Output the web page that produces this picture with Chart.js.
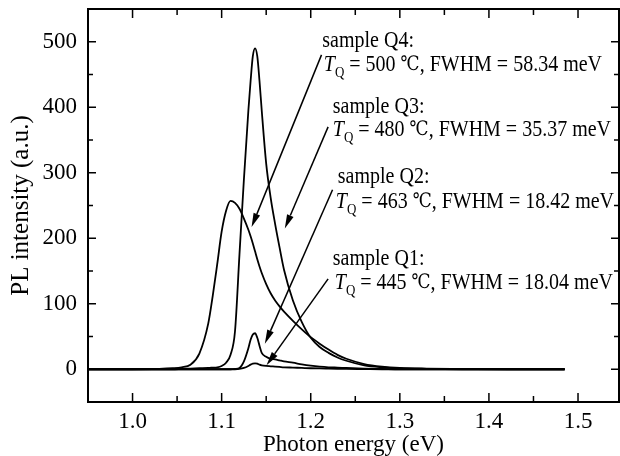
<!DOCTYPE html>
<html>
<head>
<meta charset="utf-8">
<script src="https://cdn.jsdelivr.net/npm/chart.js@4.4.1/dist/chart.umd.min.js"></script>
<style>
  html, body { margin: 0; padding: 0; background: #fff; }
  #wrap { width: 620px; height: 456px; }
</style>
</head>
<body>
<div id="wrap"><canvas id="plChart" width="620" height="456"></canvas></div>
<script>
// --- Data (photon energy in eV, PL intensity in a.u.) ---
const energy = [0.95, 1.00, 1.03, 1.045, 1.055, 1.065, 1.075, 1.085, 1.09, 1.095, 1.10, 1.105, 1.11, 1.115,
    1.12, 1.125, 1.13, 1.1325, 1.135, 1.1375, 1.14, 1.1425, 1.145, 1.15, 1.155, 1.16, 1.165, 1.17,
    1.18, 1.19, 1.20, 1.21, 1.22, 1.23, 1.24, 1.26, 1.28, 1.30, 1.33, 1.37, 1.42, 1.485];

const q4 = [0, 0, 0.5, 1.5, 3, 7, 24, 70, 112, 160, 210, 242, 257, 254,
    245, 230, 213, 203, 192, 180, 168, 157, 147, 130, 116, 105, 96, 88,
    74, 61, 49, 39, 30, 22, 16, 8, 4, 2, 1, 0.5, 0, 0];
const q3 = [0, 0, 0, 0, 0.5, 1, 1.5, 2, 2.5, 3, 5, 10, 22, 58,
    175, 290, 395, 440, 478, 490, 478, 440, 395, 314, 262, 222, 186, 152,
    105, 72, 48, 34, 25, 18, 13, 6, 3, 1.5, 0.5, 0, 0, 0];
const q2 = [0, 0, 0, 0, 0, 0, 0, 0, 0, 0, 0, 0, 0, 0.5,
    2, 12, 32, 45, 53, 55, 48, 36, 25, 19, 16, 15, 13.5, 12,
    10, 7.5, 5.5, 4, 3, 2.5, 2, 1, 0.5, 0, 0, 0, 0, 0];
const q1 = [0, 0, 0, 0, 0, 0, 0, 0, 0, 0, 0, 0, 0, 0,
    0.5, 2, 5, 7, 8.5, 9, 8.5, 7, 6, 5, 4.5, 4, 3.5, 3,
    2.5, 2, 1.5, 1.2, 1, 0.8, 0.6, 0.3, 0, 0, 0, 0, 0, 0];

const xTicks = [1.0, 1.1, 1.2, 1.3, 1.4, 1.5];
const xMinorTicks = [1.05, 1.15, 1.25, 1.35, 1.45];
const yTicks = [0, 100, 200, 300, 400, 500];
const yMinorTicks = [50, 150, 250, 350, 450];

// annotation text (Q4, Q3, Q2, Q1)
const sampleNames = ['sample Q4:', 'sample Q3:', 'sample Q2:', 'sample Q1:'];
const quenchTemps = ['500', '480', '463', '445'];
const fwhmValues = ['58.34', '35.37', '18.42', '18.04'];

// annotation anchors in data units
const nameAt = [[1.213, 502], [1.2248, 400], [1.2304, 294], [1.2248, 169]];
const tLineAt = [[1.2147, 465], [1.2248, 365], [1.2282, 256], [1.227, 132]];
const arrowFrom = [[1.2121, 480], [1.2195, 370], [1.2245, 274], [1.2195, 138]];
const arrowTo = [[1.1336, 217], [1.1709, 215], [1.1485, 39], [1.1504, 6]];

const serif = '"Liberation Serif", "DejaVu Serif", serif';

function toPoints(ys) {
    return energy.map((e, i) => ({ x: e, y: ys[i] }));
}

// text is a little taller than wide in the original figure
function stretchedText(ctx, text, x, y, font) {
    ctx.save();
    ctx.font = font;
    ctx.translate(x, y);
    ctx.scale(1, 1.18);
    ctx.fillText(text, 0, 0);
    const w = ctx.measureText(text).width;
    ctx.restore();
    return w;
}

// --- Frame, inward ticks and annotations ---
const framePlugin = {
    id: 'frame',
    afterDatasetsDraw(chart) {
        const { ctx, chartArea: a, scales: { x, y } } = chart;
        ctx.save();
        ctx.strokeStyle = '#000';
        ctx.lineWidth = 2;
        ctx.strokeRect(a.left, a.top, a.right - a.left, a.bottom - a.top);

        ctx.lineWidth = 1.5;
        ctx.beginPath();
        xTicks.concat(xMinorTicks).forEach(v => {
            const len = xTicks.includes(v) ? 9 : 6;
            const px = x.getPixelForValue(v);
            ctx.moveTo(px, a.bottom); ctx.lineTo(px, a.bottom - len);
            ctx.moveTo(px, a.top); ctx.lineTo(px, a.top + len);
        });
        yTicks.concat(yMinorTicks).forEach(v => {
            const len = yTicks.includes(v) ? 8 : 5;
            const py = y.getPixelForValue(v);
            ctx.moveTo(a.left, py); ctx.lineTo(a.left + len, py);
            ctx.moveTo(a.right, py); ctx.lineTo(a.right - len, py);
        });
        ctx.stroke();

        // arrows
        ctx.fillStyle = '#000';
        ctx.lineWidth = 1.5;
        arrowFrom.forEach((from, i) => {
            const x0 = x.getPixelForValue(from[0]), y0 = y.getPixelForValue(from[1]);
            const x1 = x.getPixelForValue(arrowTo[i][0]), y1 = y.getPixelForValue(arrowTo[i][1]);
            const ang = Math.atan2(y1 - y0, x1 - x0);
            const hl = 14, hw = 3.5;
            ctx.beginPath();
            ctx.moveTo(x0, y0);
            ctx.lineTo(x1 - hl * Math.cos(ang), y1 - hl * Math.sin(ang));
            ctx.stroke();
            ctx.beginPath();
            ctx.moveTo(x1, y1);
            ctx.lineTo(x1 - hl * Math.cos(ang) - hw * Math.sin(ang), y1 - hl * Math.sin(ang) + hw * Math.cos(ang));
            ctx.lineTo(x1 - hl * Math.cos(ang) + hw * Math.sin(ang), y1 - hl * Math.sin(ang) - hw * Math.cos(ang));
            ctx.closePath();
            ctx.fill();
        });

        // labels
        ctx.textBaseline = 'middle';
        ctx.textAlign = 'left';
        sampleNames.forEach((name, i) => {
            stretchedText(ctx, name, x.getPixelForValue(nameAt[i][0]), y.getPixelForValue(nameAt[i][1]), '20px ' + serif);

            let tx = x.getPixelForValue(tLineAt[i][0]);
            const ty = y.getPixelForValue(tLineAt[i][1]);
            tx += stretchedText(ctx, 'T', tx, ty, 'italic 20px ' + serif);
            tx += stretchedText(ctx, 'Q', tx, ty + 8, '13px ' + serif);
            tx += stretchedText(ctx, ' = ' + quenchTemps[i] + ' ', tx, ty, '20px ' + serif);
            tx += stretchedText(ctx, '\u2103', tx, ty, '17px ' + serif);
            stretchedText(ctx, ', FWHM = ' + fwhmValues[i] + ' meV', tx, ty, '20px ' + serif);
        });
        ctx.restore();
    }
};

const lineStyle = {
    borderColor: '#000',
    borderWidth: 1.8,
    pointRadius: 0,
    fill: false,
    cubicInterpolationMode: 'monotone'
};

new Chart(document.getElementById('plChart'), {
    type: 'line',
    data: {
        datasets: [
            Object.assign({ label: 'Q1', data: toPoints(q1) }, lineStyle),
            Object.assign({ label: 'Q2', data: toPoints(q2) }, lineStyle),
            Object.assign({ label: 'Q3', data: toPoints(q3) }, lineStyle),
            Object.assign({ label: 'Q4', data: toPoints(q4) }, lineStyle)
        ]
    },
    options: {
        responsive: false,
        animation: false,
        devicePixelRatio: 1,
        layout: { padding: { top: 9, right: 1, left: 0, bottom: 0 } },
        plugins: { legend: { display: false }, tooltip: { enabled: false } },
        scales: {
            x: {
                type: 'linear',
                min: 0.95,
                max: 1.546,
                afterBuildTicks: s => { s.ticks = xTicks.map(v => ({ value: v })); },
                afterFit: s => { s.height = 54; s.paddingLeft = 0; s.paddingRight = 0; },
                grid: { display: false, drawTicks: false },
                border: { display: false },
                ticks: {
                    padding: 8,
                    color: '#000',
                    maxRotation: 0,
                    autoSkip: false,
                    font: { family: serif, size: 23, lineHeight: 1 },
                    callback: v => Number(v).toFixed(1)
                },
                title: {
                    display: true,
                    text: 'Photon energy (eV)',
                    color: '#000',
                    font: { family: serif, size: 23, lineHeight: 1 },
                    padding: { top: 0, bottom: 0 }
                }
            },
            y: {
                min: -50,
                max: 550,
                afterBuildTicks: s => { s.ticks = yTicks.map(v => ({ value: v })); },
                afterFit: s => { s.width = 88; s.paddingTop = 0; s.paddingBottom = 0; },
                grid: { display: false, drawTicks: false },
                border: { display: false },
                ticks: {
                    padding: 11,
                    color: '#000',
                    font: { family: serif, size: 23, lineHeight: 1 }
                },
                title: {
                    display: true,
                    text: 'PL intensity (a.u.)',
                    color: '#000',
                    font: { family: serif, size: 25, lineHeight: 1 },
                    padding: { top: 9, bottom: 0 }
                }
            }
        }
    },
    plugins: [framePlugin]
});
</script>
</body>
</html>
